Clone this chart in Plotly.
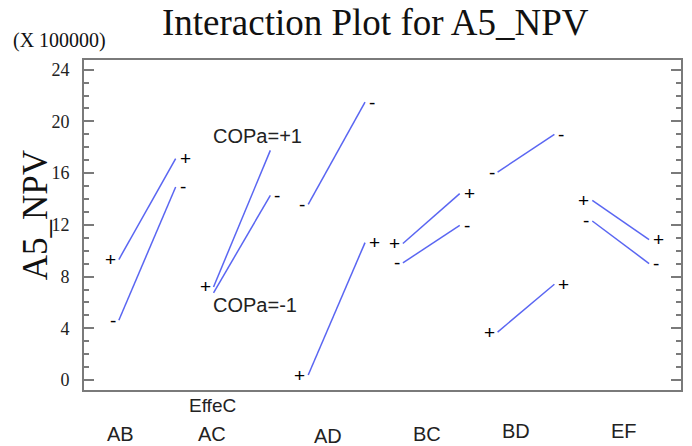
import plotly.graph_objects as go

# ---- data ----
effects = ["AB", "AC", "AD", "BC", "BD", "EF"]
x_low = [0, 1, 2, 3, 4, 5]
x_high = [0.6, 1.6, 2.6, 3.6, 4.6, 5.6]

line1_low = [9.32, 7.20, 13.59, 10.56, 16.08, 13.90]
line1_high = [17.12, 17.76, 21.49, 14.42, 19.00, 10.86]
line1_lab_low = ["+", "+", "-", "+", "-", "+"]
line1_lab_high = ["+", "", "-", "+", "-", "+"]

line2_low = [4.63, 6.74, 0.39, 9.06, 3.71, 12.30]
line2_high = [14.93, 14.29, 10.63, 11.97, 7.41, 9.01]
line2_lab_low = ["-", "", "+", "-", "+", "-"]
line2_lab_high = ["-", "-", "+", "-", "+", "-"]

# bottom labels (x data position, y paper)
bottom_x = [0.02, 0.98, 2.21, 3.25, 4.19, 5.34]
bottom_y = [-0.134, -0.134, -0.138, -0.134, -0.124, -0.124]

LINE = "#5a66f2"
GREY = "#7a7a7a"

fig = go.Figure()
for i in range(len(effects)):
    for lo, hi in ((line1_low, line1_high), (line2_low, line2_high)):
        fig.add_trace(go.Scatter(x=[x_low[i], x_high[i]], y=[lo[i], hi[i]],
                                 mode="lines", line=dict(color=LINE, width=1.5),
                                 showlegend=False, hoverinfo="skip"))

ann = []
sign_font = dict(family="Liberation Sans, Arial", size=19, color="black")
for i in range(len(effects)):
    for lo, hi, llo, lhi in ((line1_low, line1_high, line1_lab_low, line1_lab_high),
                             (line2_low, line2_high, line2_lab_low, line2_lab_high)):
        if llo[i]:
            ann.append(dict(x=x_low[i], y=lo[i], xref="x", yref="y", text=llo[i],
                            showarrow=False, xanchor="right", yanchor="middle",
                            xshift=-1, yshift=0, font=sign_font))
        if lhi[i]:
            ann.append(dict(x=x_high[i], y=hi[i], xref="x", yref="y", text=lhi[i],
                            showarrow=False, xanchor="left", yanchor="middle",
                            xshift=2, yshift=0, font=sign_font))

lab_font = dict(family="Liberation Sans, Arial", size=20, color="#222222")
ann.append(dict(x=1.46, y=18.9, xref="x", yref="y", text="COPa=+1", showarrow=False,
                font=lab_font))
ann.append(dict(x=1.44, y=5.8, xref="x", yref="y", text="COPa=-1", showarrow=False,
                font=lab_font))

for i, e in enumerate(effects):
    ann.append(dict(x=bottom_x[i], y=bottom_y[i], xref="x", yref="paper", text=e,
                    showarrow=False, yanchor="middle", font=lab_font))
ann.append(dict(x=0.99, y=-0.048, xref="x", yref="paper", text="EffeC",
                showarrow=False, yanchor="middle",
                font=dict(family="Liberation Sans, Arial", size=19, color="#222222")))

serif = "Liberation Serif, Times New Roman"
ann.append(dict(x=0.4875, y=1.115, xref="paper", yref="paper",
                text="Interaction Plot for A5_NPV", showarrow=False,
                yanchor="middle", font=dict(family=serif, size=37, color="#111111")))
ann.append(dict(x=-0.123, y=1.06, xref="paper", yref="paper", text="(X 100000)",
                showarrow=False, xanchor="left", yanchor="middle",
                font=dict(family=serif, size=20, color="#111111")))
ann.append(dict(x=-0.0818, y=0.53, xref="paper", yref="paper", text="A5_NPV",
                showarrow=False, textangle=-90, xanchor="center", yanchor="middle",
                font=dict(family=serif, size=35, color="#111111")))

fig.update_layout(
    width=692, height=446,
    margin=dict(l=84, r=9, t=60, b=56),
    paper_bgcolor="white", plot_bgcolor="white",
    annotations=ann,
    xaxis=dict(range=[-0.368, 5.937], showgrid=False, zeroline=False,
               showticklabels=False, ticks="", showline=True, linecolor=GREY,
               linewidth=2, mirror=True),
    yaxis=dict(range=[-0.77, 24.75], showgrid=False, zeroline=False,
               tickmode="linear", tick0=0, dtick=4, ticks="inside", ticklen=10,
               tickwidth=2, tickcolor=GREY, showline=True, linecolor=GREY,
               linewidth=2, mirror="ticks", ticklabelstandoff=9,
               tickfont=dict(family=serif, size=18, color="#222222"),
               minor=dict(dtick=1, ticks="inside", ticklen=5, tickwidth=1.5,
                          tickcolor=GREY)),
)

fig.write_html("out.html")
